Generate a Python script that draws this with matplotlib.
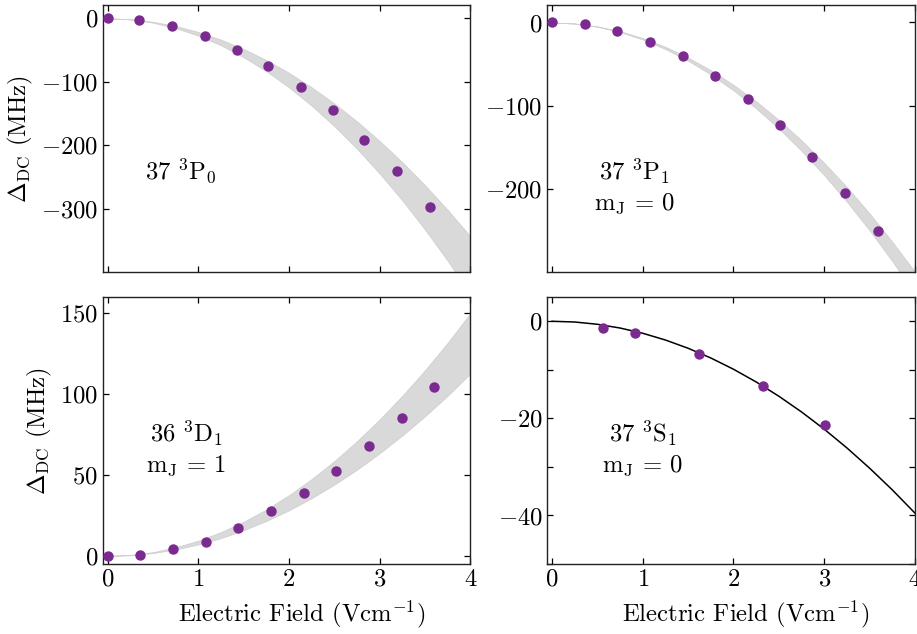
import numpy as np
import matplotlib
matplotlib.use("Agg")
import matplotlib.pyplot as plt
from matplotlib.ticker import MultipleLocator

plt.rcParams['font.family'] = 'cmr10'
plt.rcParams['mathtext.fontset'] = 'cm'
plt.rcParams['axes.formatter.use_mathtext'] = True
plt.rcParams['font.size'] = 17.8

# field grid used for the theory bands (V/cm)
E_grid = [0, 0.25, 0.5, 0.75, 1.0, 1.25, 1.5, 1.75, 2.0, 2.25, 2.5, 2.75, 3.0, 3.25, 3.5, 3.75, 4.0]

# 37 3P0
p0_E = [0, 0.35, 0.71, 1.07, 1.43, 1.77, 2.13, 2.49, 2.83, 3.19, 3.55]
p0_shift = [0, -2.7, -11.5, -27.8, -49.4, -74.6, -107.7, -144.5, -191.8, -240.7, -297.0]
p0_hi = [0, -1.3, -5.4, -12.1, -21.5, -33.6, -48.4, -65.8, -86.0, -108.8, -134.4,
         -162.6, -193.5, -227.1, -263.4, -302.3, -344.0]
p0_lo = [0, -1.7, -6.8, -15.3, -27.2, -42.5, -61.2, -83.3, -108.8, -137.7, -170.0,
         -205.7, -244.8, -287.3, -333.2, -382.5, -435.2]

# 37 3P1, mJ = 0
p1_E = [0, 0.36, 0.72, 1.08, 1.44, 1.80, 2.16, 2.51, 2.87, 3.23, 3.59]
p1_shift = [0, -1.6, -10.8, -23.2, -40.9, -64.1, -92.5, -123.0, -161.8, -205.0, -250.7]
p1_hi = [0, -1.2, -4.7, -10.5, -18.8, -29.3, -42.2, -57.4, -75.0, -94.9, -117.2,
         -141.8, -168.8, -198.0, -229.7, -263.7, -300.0]
p1_lo = [0, -1.3, -5.1, -11.5, -20.4, -31.9, -45.9, -62.5, -81.6, -103.3, -127.5,
         -154.3, -183.6, -215.5, -249.9, -286.9, -326.4]

# 36 3D1, mJ = 1
d1_E = [0, 0.36, 0.72, 1.08, 1.44, 1.80, 2.16, 2.52, 2.88, 3.24, 3.60]
d1_shift = [0, 0.8, 4.5, 8.3, 17.5, 27.6, 38.6, 52.2, 67.9, 85.2, 104.4]
d1_hi = [0, 0.6, 2.3, 5.3, 9.4, 14.7, 21.1, 28.7, 37.5, 47.5, 58.6,
         70.9, 84.4, 99.0, 114.8, 131.8, 150.0]
d1_lo = [0, 0.4, 1.8, 4.0, 7.1, 11.0, 15.9, 21.6, 28.2, 35.7, 44.1,
         53.3, 63.5, 74.5, 86.4, 99.1, 112.8]

# 37 3S1, mJ = 0
s1_E = [0.56, 0.92, 1.62, 2.32, 3.01]
s1_shift = [-1.3, -2.5, -6.8, -13.3, -21.4]
s1_theory = [0, -0.15, -0.62, -1.39, -2.47, -3.86, -5.56, -7.56, -9.88, -12.50, -15.44,
             -18.68, -22.23, -26.09, -30.26, -34.73, -39.52]

purple = '#7b2a8f'
band = '#d9d9d9'

fig, axs = plt.subplots(2, 2, figsize=(9.17, 6.34), dpi=100)
fig.subplots_adjust(left=0.1123, right=0.9978, top=0.9921, bottom=0.1104,
                    wspace=0.2095, hspace=0.0936)

panels = [
    (axs[0, 0], p0_E, p0_shift, p0_hi, p0_lo, (-400, 21), [0, -100, -200, -300],
     r'$37\ {}^3\mathrm{P}_0$', (0.21, 0.376)),
    (axs[0, 1], p1_E, p1_shift, p1_hi, p1_lo, (-300, 21), [0, -100, -200],
     '$37\\ {}^3\\mathrm{P}_1$\n$\\mathrm{m_J}\\,=\\,0$', (0.236, 0.32)),
    (axs[1, 0], d1_E, d1_shift, d1_hi, d1_lo, (-5, 160), [0, 50, 100, 150],
     '$36\\ {}^3\\mathrm{D}_1$\n$\\mathrm{m_J}\\,=\\,1$', (0.226, 0.434)),
]

for ax, xs, ys, hi, lo, ylim, yt, label, pos in panels:
    ax.fill_between(E_grid, lo, hi, color=band, lw=0.6, edgecolor='#d0d0d0', zorder=1)
    ax.plot(xs, ys, 'o', color=purple, ms=7.5, mec='none', zorder=3)
    ax.set_ylim(*ylim)
    ax.set_yticks(yt)
    ax.text(pos[0], pos[1], label, transform=ax.transAxes, ha='center', va='center',
            multialignment='center', linespacing=1.3)

ax = axs[1, 1]
ax.plot(E_grid, s1_theory, color='black', lw=1.1, zorder=2)
ax.plot(s1_E, s1_shift, 'o', color=purple, ms=7.5, mec='none', zorder=3)
ax.set_ylim(-50, 5)
ax.yaxis.set_major_locator(MultipleLocator(20))
ax.yaxis.set_minor_locator(MultipleLocator(10))
ax.text(0.258, 0.434, '$37\\ {}^3\\mathrm{S}_1$\n$\\mathrm{m_J}\\,=\\,0$', transform=ax.transAxes,
        ha='center', va='center', multialignment='center', linespacing=1.3)

for a in axs.flat:
    a.set_xlim(-0.05, 4)
    a.set_xticks([0, 1, 2, 3, 4])
    a.tick_params(which='both', direction='in', top=True, right=True, length=4, width=0.9)
    for s in a.spines.values():
        s.set_linewidth(1.0)
        s.set_color('#222222')

for a in axs[0, :]:
    a.tick_params(labelbottom=False)

for a in axs[1, :]:
    a.set_xlabel(r'Electric Field (Vcm$^{-1}$)')
    a.xaxis.set_label_coords(0.54, -0.13)

for a in axs[:, 0]:
    a.set_ylabel(r'$\Delta_{\mathrm{DC}}$ (MHz)')

fig.savefig('out.png', dpi=100)
